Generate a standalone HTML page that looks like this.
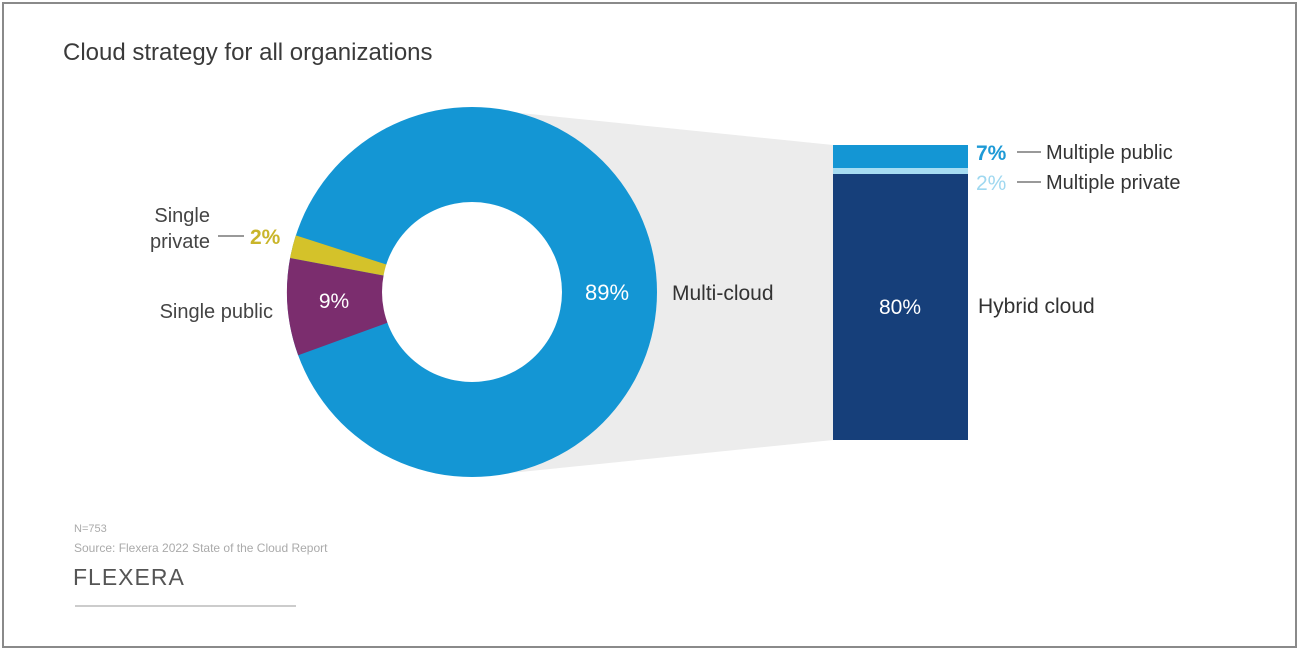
<!DOCTYPE html>
<html><head><meta charset="utf-8"><style>
body{margin:0;background:#fff;}
svg{display:block;font-family:"Liberation Sans",sans-serif;}
</style></head><body>
<svg width="1299" height="651" viewBox="0 0 1299 651">
<rect x="3" y="3" width="1293" height="644" fill="#fff" stroke="#8a8a8a" stroke-width="2"/>
<text x="63" y="60" font-size="24" fill="#3a3a3a">Cloud strategy for all organizations</text>
<polygon points="472,108 833,145 833,440 472,477" fill="#ececec"/>
<!-- donut -->
<g transform="translate(472,292)">
<circle r="185" fill="#1496d4"/>
<path d="M -181.9 -34 A 185 185 0 0 0 -173.8 63.3 L -84.6 30.8 A 90 90 0 0 0 -88.5 -16.5 Z" fill="#7b2d6e"/>
<path d="M -176.2 -56.6 A 185 185 0 0 0 -181.9 -34 L -88.5 -16.5 A 90 90 0 0 0 -85.7 -27.5 Z" fill="#d4c22a"/>
<circle r="90" fill="#fff"/>
</g>
<text x="334" y="308" font-size="21" fill="#fff" text-anchor="middle">9%</text>
<text x="607" y="300" font-size="22" fill="#fff" text-anchor="middle">89%</text>
<text x="672" y="300" font-size="21" fill="#333">Multi-cloud</text>
<text x="210" y="222" font-size="20" fill="#444" text-anchor="end">Single</text>
<text x="210" y="248" font-size="20" fill="#444" text-anchor="end">private</text>
<line x1="218" y1="236" x2="244" y2="236" stroke="#999" stroke-width="2"/>
<text x="250" y="244" font-size="21" fill="#c9b52a" font-weight="bold">2%</text>
<text x="273" y="318" font-size="20" fill="#444" text-anchor="end">Single public</text>
<!-- bar -->
<rect x="833" y="145" width="135" height="23" fill="#1496d4"/>
<rect x="833" y="168" width="135" height="6" fill="#a6dcf2"/>
<rect x="833" y="174" width="135" height="266" fill="#163f7a"/>
<text x="900" y="314" font-size="21" fill="#fff" text-anchor="middle">80%</text>
<text x="978" y="313" font-size="21" fill="#333">Hybrid cloud</text>
<text x="976" y="160" font-size="21" fill="#1e9ad6" font-weight="bold">7%</text>
<line x1="1017" y1="152" x2="1041" y2="152" stroke="#999" stroke-width="2"/>
<text x="1046" y="159" font-size="20" fill="#333">Multiple public</text>
<text x="976" y="190" font-size="21" fill="#9fd8f0">2%</text>
<line x1="1017" y1="182" x2="1041" y2="182" stroke="#999" stroke-width="2"/>
<text x="1046" y="189" font-size="20" fill="#333">Multiple private</text>
<!-- footer -->
<text x="74" y="532" font-size="11" fill="#aaa">N=753</text>
<text x="74" y="552" font-size="12" fill="#aaa">Source: Flexera 2022 State of the Cloud Report</text>
<text x="73" y="585" font-size="23" fill="#555" letter-spacing="1">FLEXERA</text>
<line x1="75" y1="606" x2="296" y2="606" stroke="#ccc" stroke-width="2"/>
</svg>
</body></html>
